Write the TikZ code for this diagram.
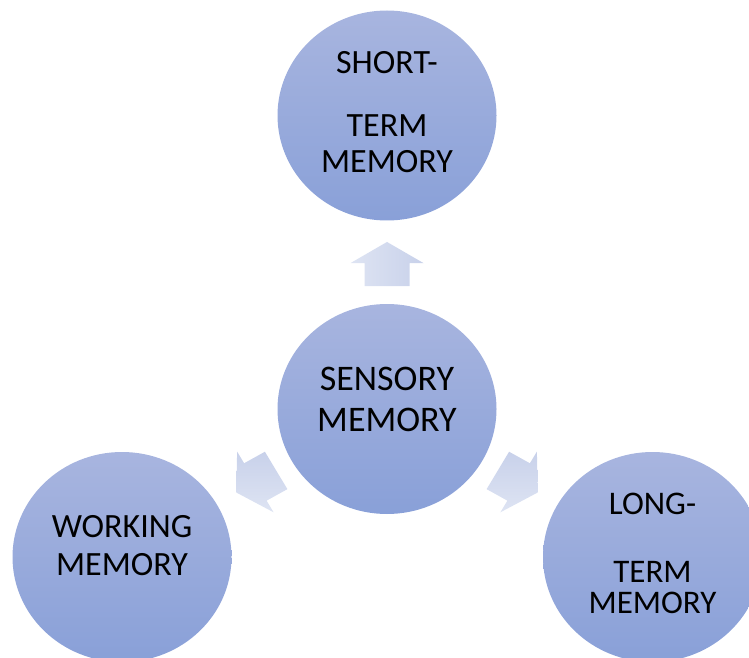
\documentclass[tikz,border=0pt]{standalone}
\usepackage{fontspec}
\setmainfont{Carlito}
\usetikzlibrary{shapes.geometric}

\definecolor{memtop}{RGB}{168,181,223}
\definecolor{membot}{RGB}{137,160,216}
\definecolor{arrdark}{RGB}{200,209,234}
\definecolor{arrlight}{RGB}{222,228,243}

\begin{document}
\begin{tikzpicture}[x=1pt, y=1pt,
		memory/.style={ellipse, minimum width=219pt, minimum height=210pt, inner sep=0pt, top color=memtop, bottom color=membot},
		memtext/.style={anchor=base, align=center, inner sep=0pt}]
			\useasboundingbox (0,0) rectangle (749,657);
			\clip (0,0) rectangle (749,657);
			
			\node[memory] (short) at (387,541.5) {};
			\node[memory] (sensory) at (387,248) {};
			\node[memory] (working) at (122,100) {};
			\node[memory] (long) at (652.5,100) {};
			
			% base anchor sits on the last line
			\node[memtext, font=\fontsize{34}{36}\selectfont] (shorttext) at ([yshift=-57.5]short.center) {SHORT-\\[27pt]TERM\\MEMORY};
			\node[memtext, font=\fontsize{36}{41}\selectfont] (sensorytext) at ([yshift=-22]sensory.center) {SENSORY\\MEMORY};
			\node[memtext, font=\fontsize{34}{38}\selectfont] (workingtext) at ([yshift=-18]working.center) {WORKING\\MEMORY};
			\node[memtext, font=\fontsize{33}{31}\selectfont] (longtext) at ([yshift=-56]long.center) {LONG-\\[37pt]TERM\\MEMORY};
			
			\begin{scope}[shift={(sensory.center)}, yscale=0.96, rotate=90]
				\shade[left color=arrlight, right color=arrdark] (128,-22.5)--(152,-22.5)--(152,-36.5)--(174,0)--(152,36.5)--(152,22.5)--(128,22.5)--cycle;
			\end{scope}
			\begin{scope}[shift={(sensory.center)}, yscale=0.96, rotate=210]
				\shade[top color=arrdark, bottom color=arrlight] (128,-22.5)--(152,-22.5)--(152,-36.5)--(174,0)--(152,36.5)--(152,22.5)--(128,22.5)--cycle;
			\end{scope}
			\begin{scope}[shift={(sensory.center)}, yscale=0.96, rotate=330]
				\shade[top color=arrdark, bottom color=arrlight] (128,-22.5)--(152,-22.5)--(152,-36.5)--(174,0)--(152,36.5)--(152,22.5)--(128,22.5)--cycle;
			\end{scope}
		\end{tikzpicture}
\end{document}
